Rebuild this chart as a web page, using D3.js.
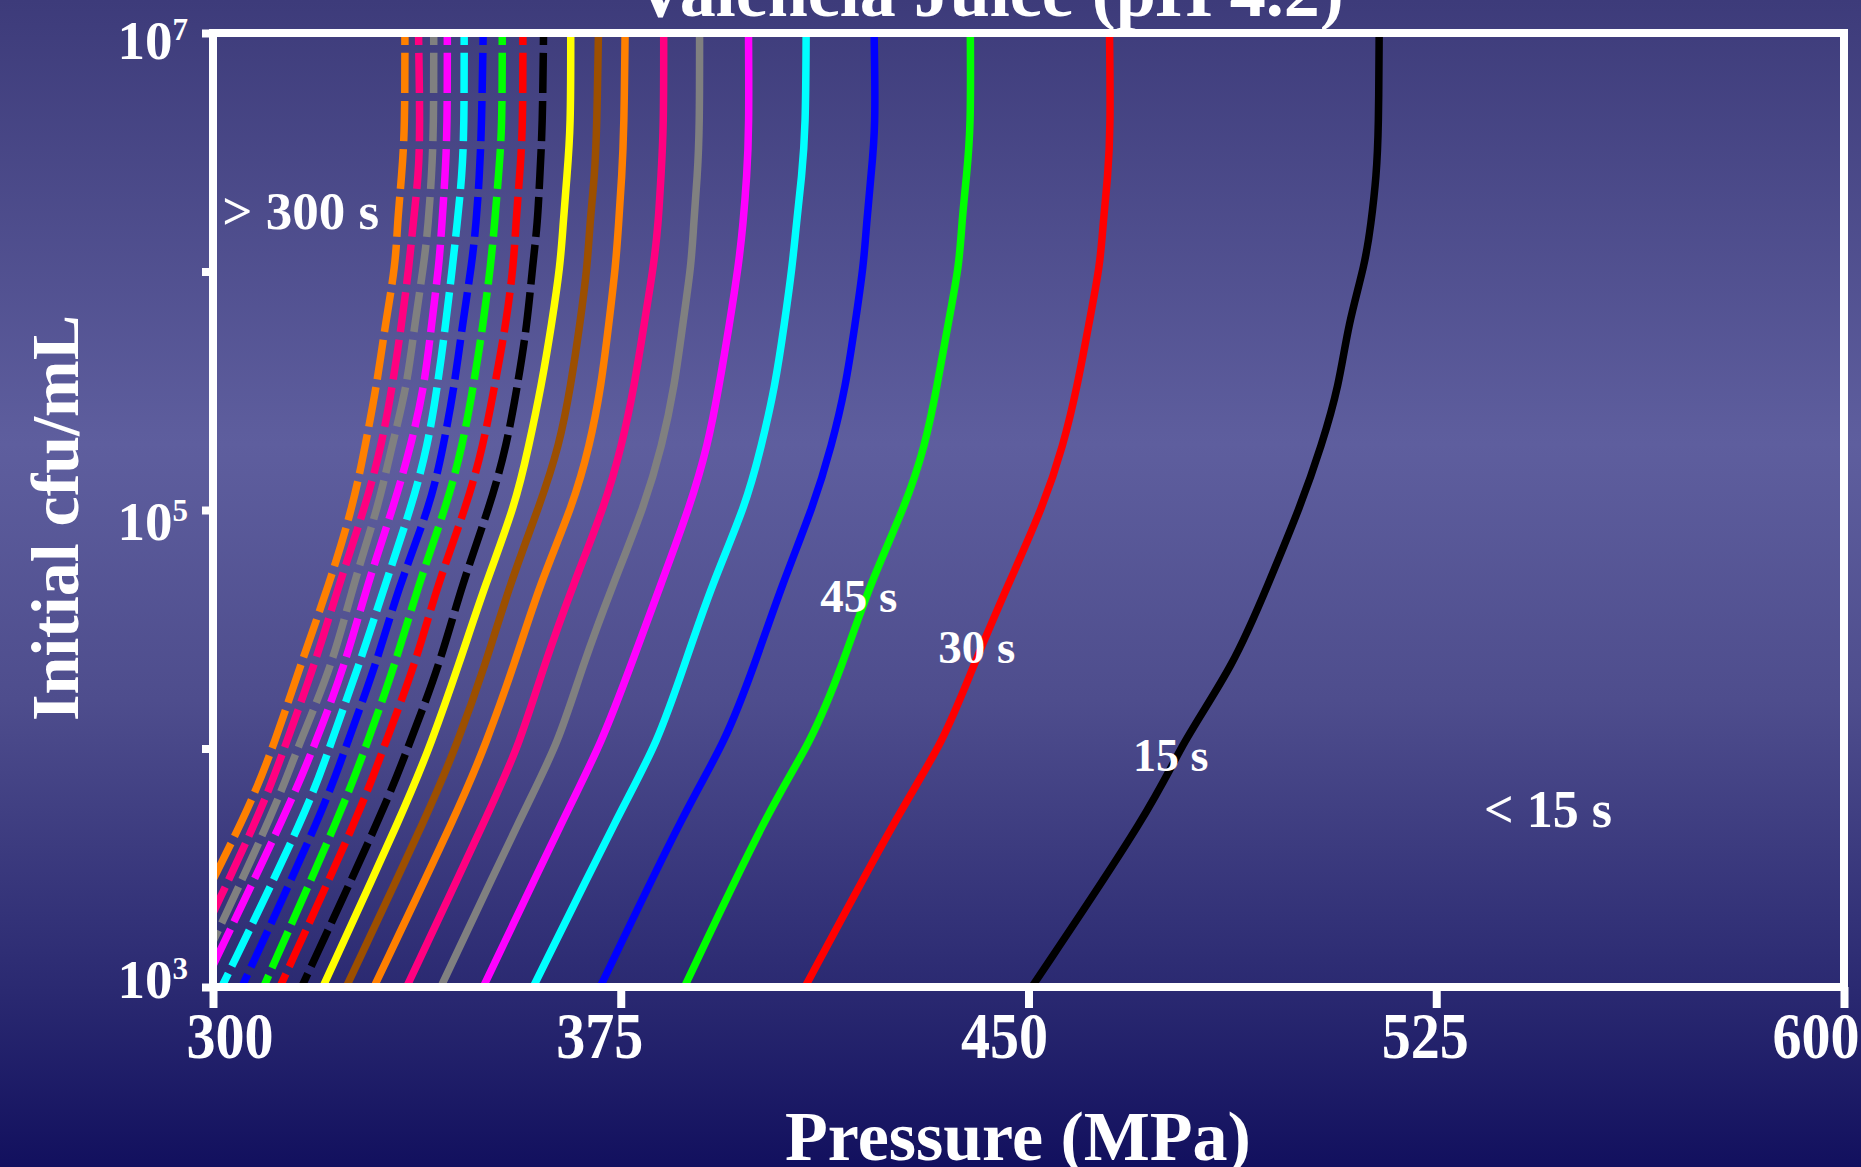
<!DOCTYPE html>
<html>
<head>
<meta charset="utf-8">
<script src="https://cdn.jsdelivr.net/npm/d3@7"></script>
<style>
  html, body { margin: 0; padding: 0; background: #12105e; overflow: hidden; }
  svg text { font-family: "Liberation Serif", "Times New Roman", serif; font-weight: bold; fill: #ffffff; }
</style>
</head>
<body>
<div id="chart"></div>
<script>
const logLevels = [7, 6.6, 6.4, 6.2, 6.03, 5.78, 5.52, 5.27, 5.02, 4.69, 4.35, 4.02, 3.76];

// process time of each contour (s)
const times = [15, 30, 45, 60, 75, 90, 105, 120, 135, 150, 165,
               180, 195, 210, 225, 240, 255, 270, 285, 300];

// pressure (MPa) of each contour at logLevels
const pressures = [
  [514.5, 514.4, 514.0, 513.0, 511.9, 508.8, 507.1, 503.9, 500.1, 494.1, 487.8, 478.1, 473.0],
  [464.9, 465.1, 464.6, 463.7, 463.2, 461.1, 459.0, 456.4, 452.8, 446.3, 439.9, 434.2, 426.8],
  [439.3, 439.4, 438.6, 437.7, 437.3, 435.2, 433.2, 431.0, 427.4, 420.8, 415.8, 409.9, 402.5],
  [421.6, 421.9, 421.0, 420.2, 419.7, 418.1, 416.4, 413.8, 410.5, 404.7, 399.6, 394.1, 387.2],
  [409.1, 409.0, 408.3, 407.3, 406.6, 405.1, 403.4, 400.9, 398.0, 391.8, 386.7, 381.7, 375.4],
  [398.5, 398.6, 398.2, 397.5, 396.7, 395.0, 393.1, 391.0, 387.8, 382.4, 376.9, 371.4, 365.6],
  [389.5, 389.5, 389.1, 388.4, 388.0, 386.4, 384.9, 382.6, 379.4, 373.6, 368.0, 363.5, 357.6],
  [382.9, 382.9, 382.4, 381.9, 381.1, 379.3, 377.5, 375.2, 372.1, 366.3, 360.9, 356.4, 351.3],
  [375.8, 375.6, 375.2, 374.6, 374.1, 372.8, 371.4, 369.3, 366.2, 360.1, 355.4, 350.2, 345.5],
  [370.9, 370.6, 370.2, 369.3, 368.9, 367.5, 365.8, 363.7, 360.1, 354.6, 350.1, 344.9, 340.2],
  [365.8, 365.8, 365.1, 364.4, 363.9, 362.3, 360.4, 358.1, 355.6, 350.1, 345.2, 340.1, 335.5],
  [360.8, 360.6, 360.1, 359.7, 358.8, 357.8, 356.0, 354.0, 351.0, 345.8, 341.7, 336.1, 331.8],
  [357.0, 357.0, 356.4, 355.7, 355.3, 353.9, 351.8, 349.7, 346.7, 341.3, 337.2, 331.6, 327.6],
  [353.2, 353.2, 352.5, 351.8, 351.1, 349.7, 347.9, 345.9, 343.0, 337.8, 333.5, 328.3, 324.1],
  [349.7, 349.4, 349.0, 348.4, 347.6, 345.9, 344.4, 342.4, 340.0, 334.3, 330.0, 324.6, 320.7],
  [346.2, 346.2, 345.8, 344.9, 344.1, 342.8, 341.3, 339.5, 336.6, 331.7, 326.9, 321.6, 317.8],
  [343.1, 343.1, 342.7, 342.1, 341.6, 340.2, 338.9, 336.4, 333.3, 328.4, 324.3, 318.8, 314.1],
  [340.6, 340.6, 340.2, 339.6, 338.8, 337.1, 335.7, 332.9, 330.5, 325.8, 322.0, 315.8, 311.7],
  [337.8, 338.1, 337.8, 336.8, 336.1, 334.7, 333.0, 331.0, 328.1, 323.2, 318.7, 313.4, 309.3],
  [335.3, 335.3, 334.7, 333.9, 333.6, 331.7, 330.1, 328.0, 325.8, 321.4, 316.1, 311.3, 306.8]
];

// where each contour leaves the plot: [pressure MPa, log10 cfu/mL]
const endPoints = [
  [450.6, 3], [408.9, 3], [386.7, 3], [371.2, 3], [358.9, 3],
  [349.7, 3], [341.9, 3], [335.6, 3], [329.6, 3], [324.5, 3],
  [320.2, 3], [316.3, 3], [312.3, 3], [309.3, 3], [305.3, 3],
  [301.6, 3], [300, 3.09], [300, 3.19], [300, 3.31], [300, 3.45]
];

const xTicks = [300, 375, 450, 525, 600];
const yTicks = [1e3, 1e4, 1e5, 1e6, 1e7];
const yLabelExponents = [3, 5, 7];

const titleText = "Valencia Juice (pH 4.2)";

// ---- styling ----
const lineColors = ["#000000", "#ff0000", "#00ff00", "#0000ff", "#00ffff", "#ff00ff",
                    "#808080", "#ff0080", "#ff8000", "#9c4f00", "#ffff00",
                    "#000000", "#ff0000", "#00ff00", "#0000ff", "#00ffff", "#ff00ff",
                    "#808080", "#ff0080", "#ff8000"];

const W = 1861, H = 1167;
const plot = { left: 213, right: 1844, top: 33, bottom: 987 };

const x = d3.scaleLinear().domain([300, 600]).range([plot.left, plot.right]);
const y = d3.scaleLog().domain([1e3, 1e7]).range([plot.bottom, plot.top]);

const svg = d3.select("#chart")
    .append("svg")
    .attr("width", W)
    .attr("height", H);

const defs = svg.append("defs");
const grad = defs.append("linearGradient")
    .attr("id", "bg")
    .attr("x1", 0).attr("y1", 0)
    .attr("x2", 0).attr("y2", 1);
[[0, "#3d3b7a"], [0.38, "#5e5e9e"], [0.6, "#4e4d8d"], [0.85, "#2a2971"], [1, "#12105e"]]
    .forEach(([o, c]) => grad.append("stop").attr("offset", o).attr("stop-color", c));

defs.append("clipPath").attr("id", "plotClip")
    .append("rect")
    .attr("x", plot.left).attr("y", plot.top)
    .attr("width", plot.right - plot.left)
    .attr("height", plot.bottom - plot.top);

svg.append("rect").attr("width", W).attr("height", H).attr("fill", "url(#bg)");

// contour lines
const series = times.map((t, i) => ({
    time: t,
    dashed: i >= 11,
    color: lineColors[i],
    points: logLevels.map((l, j) => [pressures[i][j], l]).concat([endPoints[i]])
}));

const line = d3.line()
    .x(d => x(d[0]))
    .y(d => y(Math.pow(10, d[1])))
    .curve(d3.curveBasis);

svg.append("g")
    .attr("clip-path", "url(#plotClip)")
    .selectAll("path")
    .data(series)
    .join("path")
    .attr("d", d => line(d.points))
    .attr("fill", "none")
    .attr("stroke", d => d.color)
    .attr("stroke-width", 7.5)
    .attr("stroke-dasharray", d => d.dashed ? "40,8" : null)
    .attr("stroke-dashoffset", d => d.dashed ? 28 : null);

// axes
const xAxis = svg.append("g")
    .attr("transform", `translate(0,${plot.bottom})`)
    .call(d3.axisBottom(x).tickValues(xTicks).tickSize(21).tickFormat(""));
const yAxis = svg.append("g")
    .attr("transform", `translate(${plot.left},0)`)
    .call(d3.axisLeft(y).tickValues(yTicks).tickSize(11).tickFormat(""));
[xAxis, yAxis].forEach(a => {
    a.select(".domain").remove();
    a.selectAll(".tick line").attr("stroke", "#ffffff").attr("stroke-width", 8);
});

svg.append("rect")
    .attr("x", plot.left).attr("y", plot.top)
    .attr("width", plot.right - plot.left)
    .attr("height", plot.bottom - plot.top)
    .attr("fill", "none")
    .attr("stroke", "#ffffff")
    .attr("stroke-width", 8);

// tick labels (hand placed in the original slide, hence the nudges)
const xNudge = { 300: 17, 375: -21, 450: -24, 525: -11, 600: -28 };
svg.append("g")
    .selectAll("text")
    .data(xTicks)
    .join("text")
    .attr("transform", d => `translate(${x(d) + xNudge[d]},1058) scale(0.88,1)`)
    .attr("text-anchor", "middle")
    .style("font-size", "66px")
    .text(d => d);

const yNudge = { 3: 11, 5: 30, 7: 26 };
const yLab = svg.append("g")
    .selectAll("text")
    .data(yLabelExponents)
    .join("text")
    .attr("x", 188)
    .attr("y", d => y(Math.pow(10, d)) + yNudge[d])
    .attr("text-anchor", "end")
    .style("font-size", "55px");
yLab.append("tspan").text("10");
yLab.append("tspan")
    .attr("dy", -19)
    .style("font-size", "31px")
    .text(d => d);

// titles
svg.append("text")
    .attr("x", 989).attr("y", 16)
    .attr("text-anchor", "middle")
    .style("font-size", "72px")
    .text(titleText);

svg.append("text")
    .attr("x", 1018).attr("y", 1160)
    .attr("text-anchor", "middle")
    .style("font-size", "70px")
    .text("Pressure (MPa)");

svg.append("text")
    .attr("transform", "translate(78,518) rotate(-90)")
    .attr("text-anchor", "middle")
    .style("font-size", "68px")
    .text("Initial cfu/mL");

// region / contour annotations
const notes = [
    { text: "> 300 s", p: 301.7, n: 6.178, size: 53 },
    { text: "45 s", p: 411.7, n: 4.572, size: 47 },
    { text: "30 s", p: 433.4, n: 4.358, size: 47 },
    { text: "15 s", p: 469.2, n: 3.906, size: 46 },
    { text: "< 15 s", p: 533.8, n: 3.671, size: 52 }
];
svg.append("g")
    .selectAll("text")
    .data(notes)
    .join("text")
    .attr("x", d => x(d.p))
    .attr("y", d => y(Math.pow(10, d.n)))
    .style("font-size", d => d.size + "px")
    .text(d => d.text);
</script>
</body>
</html>
